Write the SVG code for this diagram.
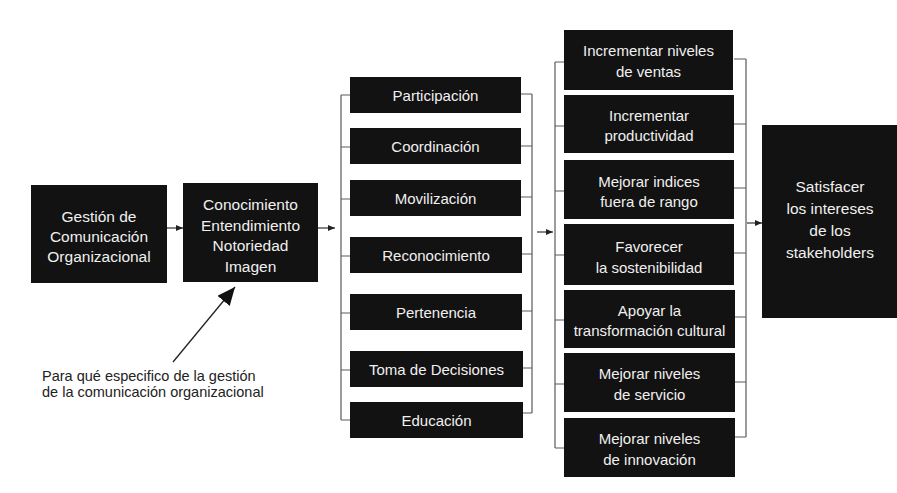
<svg xmlns="http://www.w3.org/2000/svg" width="897" height="493" viewBox="0 0 897 493">
<defs>
<style>
.box{fill:#121212}
.t{font-family:"Liberation Sans",Arial,sans-serif;font-size:15px;fill:#f0f0f0;text-anchor:middle}
.b{font-family:"Liberation Sans",Arial,sans-serif;font-size:15.5px;fill:#f0f0f0;text-anchor:middle}
.note{font-family:"Liberation Sans",Arial,sans-serif;font-size:14.5px;fill:#222}
.ln{stroke:#5a5a5a;stroke-width:1.2;fill:none}
.ar{stroke:#333;stroke-width:1.2;fill:none;marker-end:url(#sm)}
</style>
<marker id="sm" markerUnits="userSpaceOnUse" markerWidth="8" markerHeight="6" refX="7" refY="3" orient="auto">
<path d="M0,0 L7,3 L0,6 Z" fill="#222"/>
</marker>
<marker id="big" markerUnits="userSpaceOnUse" markerWidth="20" markerHeight="16" refX="18" refY="8" orient="auto">
<path d="M0,0 L18,8 L0,16 Z" fill="#111"/>
</marker>
</defs>
<rect width="897" height="493" fill="#ffffff"/>

<g id="connectors">
<line class="ar" x1="167" y1="228" x2="183" y2="228"/>
<line class="ar" x1="318" y1="228" x2="335" y2="228"/>
<line class="ar" x1="537" y1="232" x2="553" y2="232"/>
<line class="ar" x1="747" y1="223" x2="762" y2="223"/>
<line x1="173" y1="362" x2="235" y2="287" stroke="#222" stroke-width="1.3" marker-end="url(#big)"/>
<path class="ln" d="M341,95 V420 M341,95 H350 M341,147 H350 M341,199 H350 M341,256 H350 M341,313 H350 M341,370 H350 M341,420 H350"/>
<path class="ln" d="M532,94 V413 M521,94 H532 M521,146 H532 M521,197 H532 M521,254 H532 M521,311 H532 M521,368 H532 M521,413 H532"/>
<path class="ln" d="M555,62 V448 M555,62 H564 M555,126 H564 M555,191 H564 M555,255 H564 M555,320 H564 M555,384 H564 M555,448 H564"/>
<path class="ln" d="M746,59 V437 M734,59 H746 M734,124 H746 M734,188 H746 M734,253 H746 M734,317 H746 M734,382 H746 M734,437 H746"/>
</g>

<g id="n-gestion">
<rect class="box" x="31" y="185" width="136" height="98"/>
<text class="b" x="99" y="222">Gestión de</text>
<text class="b" x="99" y="242">Comunicación</text>
<text class="b" x="99" y="262">Organizacional</text>
</g>
<g id="n-conocimiento">
<rect class="box" x="183" y="183" width="135" height="99"/>
<text class="b" x="250.5" y="210">Conocimiento</text>
<text class="b" x="250.5" y="230.5">Entendimiento</text>
<text class="b" x="250.5" y="251">Notoriedad</text>
<text class="b" x="250.5" y="271.5">Imagen</text>
</g>
<g id="n-nota">
<text class="note" x="42" y="381">Para qué especifico de la gestión</text>
<text class="note" x="42" y="397">de la comunicación organizacional</text>
</g>

<g id="n-participacion"><rect class="box" x="350" y="77" width="171" height="36"/><text class="t" x="435.5" y="101">Participación</text></g>
<g id="n-coordinacion"><rect class="box" x="350" y="128" width="171" height="36"/><text class="t" x="435.5" y="152">Coordinación</text></g>
<g id="n-movilizacion"><rect class="box" x="350" y="180" width="171" height="36"/><text class="t" x="435.5" y="204">Movilización</text></g>
<g id="n-reconocimiento"><rect class="box" x="350" y="237" width="172" height="36"/><text class="t" x="436" y="261">Reconocimiento</text></g>
<g id="n-pertenencia"><rect class="box" x="350" y="294" width="172" height="36"/><text class="t" x="436" y="318">Pertenencia</text></g>
<g id="n-toma"><rect class="box" x="350" y="351" width="173" height="36"/><text class="t" x="436.5" y="375">Toma de Decisiones</text></g>
<g id="n-educacion"><rect class="box" x="350" y="402" width="173" height="36"/><text class="t" x="436.5" y="426">Educación</text></g>

<g id="n-ventas"><rect class="box" x="564" y="30" width="169" height="60"/><text class="t" x="648.5" y="56">Incrementar niveles</text><text class="t" x="648.5" y="77">de ventas</text></g>
<g id="n-productividad"><rect class="box" x="564" y="95" width="170" height="58"/><text class="t" x="649" y="121">Incrementar</text><text class="t" x="649" y="141">productividad</text></g>
<g id="n-indices"><rect class="box" x="564" y="160" width="170" height="59"/><text class="t" x="649" y="187">Mejorar indices</text><text class="t" x="649" y="207">fuera de rango</text></g>
<g id="n-sostenibilidad"><rect class="box" x="564" y="224" width="170" height="61"/><text class="t" x="649" y="252">Favorecer</text><text class="t" x="649" y="273">la sostenibilidad</text></g>
<g id="n-transformacion"><rect class="box" x="564" y="290" width="171" height="58"/><text class="t" x="649.5" y="316">Apoyar la</text><text class="t" x="649.5" y="336">transformación cultural</text></g>
<g id="n-servicio"><rect class="box" x="564" y="353" width="171" height="59"/><text class="t" x="649.5" y="379">Mejorar niveles</text><text class="t" x="649.5" y="400">de servicio</text></g>
<g id="n-innovacion"><rect class="box" x="564" y="418" width="171" height="59"/><text class="t" x="649.5" y="444">Mejorar niveles</text><text class="t" x="649.5" y="465">de innovación</text></g>

<g id="n-stakeholders">
<rect class="box" x="762" y="125" width="135" height="193"/>
<text class="b" x="830" y="192">Satisfacer</text>
<text class="b" x="830" y="214">los intereses</text>
<text class="b" x="830" y="236">de los</text>
<text class="b" x="830" y="258">stakeholders</text>
</g>
</svg>
